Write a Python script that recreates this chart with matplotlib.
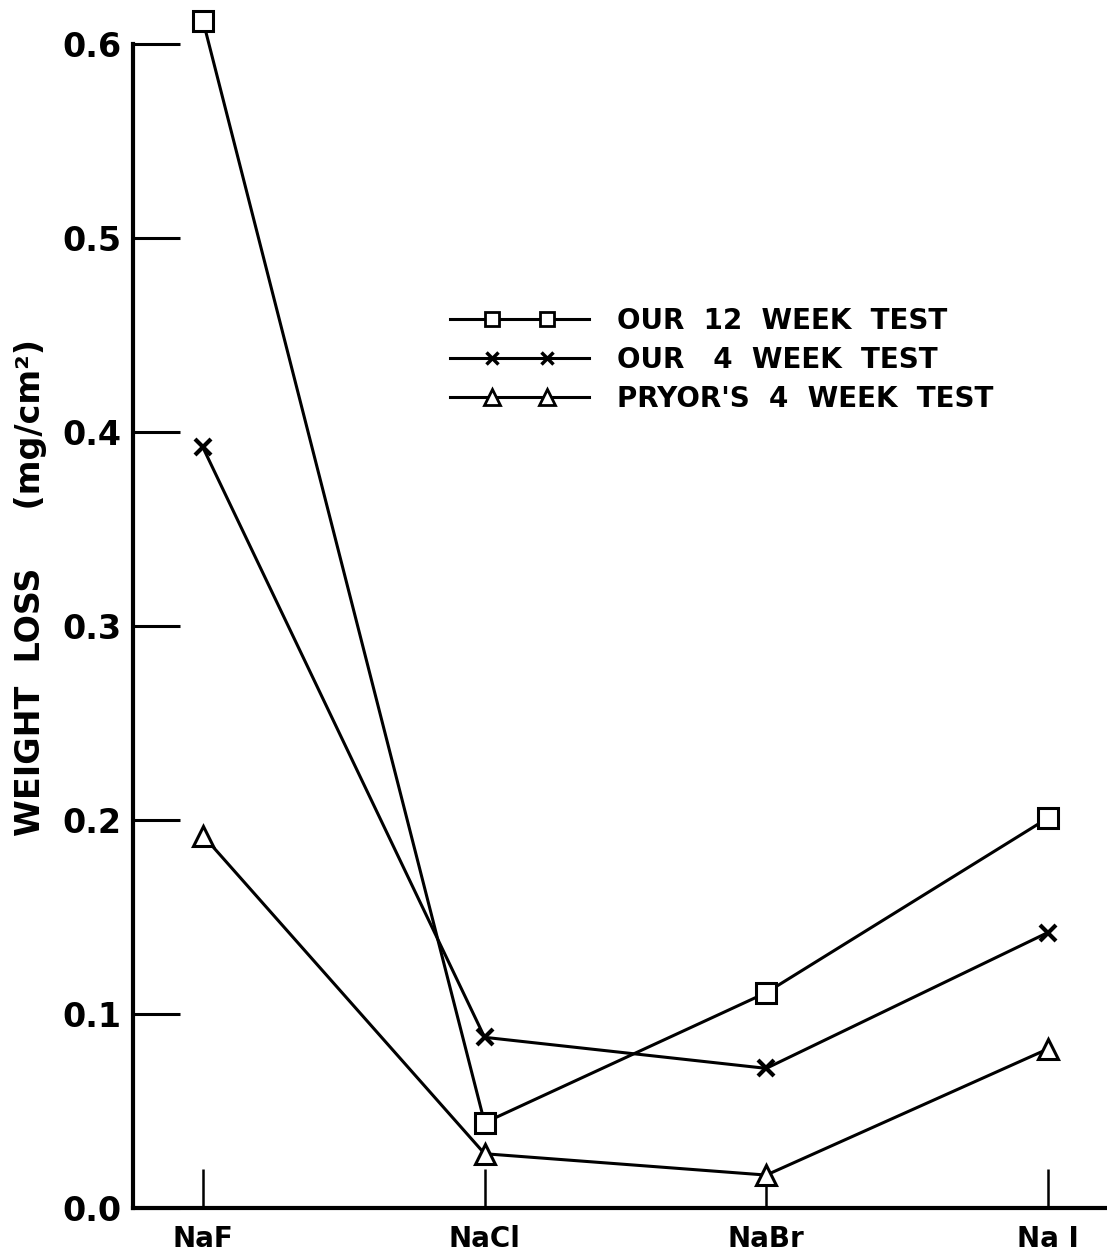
import matplotlib
matplotlib.use("Agg")
import matplotlib.pyplot as plt
from matplotlib.lines import Line2D
from matplotlib.legend_handler import HandlerLine2D, HandlerTuple

plt.rcParams['font.family'] = ['DejaVu Sans']
plt.rcParams['font.weight'] = 'bold'

salts = ['NaF', 'NaCl', 'NaBr', 'NaI']
week12 = [0.612, 0.044, 0.111, 0.201]
week4 = [0.392, 0.088, 0.072, 0.142]
pryor4 = [0.192, 0.028, 0.017, 0.082]
yticks = [0.0, 0.1, 0.2, 0.3, 0.4, 0.5, 0.6]
labels = ['OUR  12  WEEK  TEST', 'OUR   4  WEEK  TEST', "PRYOR'S  4  WEEK  TEST"]

fig = plt.figure(figsize=(11.07, 12.58), dpi=100)
ax = fig.add_axes([0.120, 0.0397, 0.880, 0.9254])

x = range(len(salts))
ax.plot(x, week12, color='black', lw=2.2, marker='s', ms=14,
        mfc='white', mec='black', mew=2.2, clip_on=False, zorder=3)
ax.plot(x, week4, color='black', lw=2.2, marker='x', ms=11,
        mec='black', mew=3, clip_on=False, zorder=3)
ax.plot(x, pryor4, color='black', lw=2.2, marker='^', ms=15,
        mfc='white', mec='black', mew=2.2, clip_on=False, zorder=3)

ax.set_xlim(-0.249, 3.21)
ax.set_ylim(0, 0.6)
ax.set_xticks(list(x))
ax.set_xticklabels(['NaF', 'NaCl', 'NaBr', 'Na I'], fontsize=20, fontweight='bold')
ax.set_yticks(yticks)
ax.set_yticklabels(['%.1f' % v for v in yticks], fontsize=24, fontweight='bold')
ax.tick_params(axis='y', direction='in', length=34, width=2.2, pad=8)
ax.tick_params(axis='x', direction='in', length=28, width=1.8, pad=12)

for s in ['top', 'right']:
    ax.spines[s].set_visible(False)
for s in ['left', 'bottom']:
    ax.spines[s].set_linewidth(3)

ax.set_ylabel('WEIGHT  LOSS     (mg/cm²)', fontsize=24, fontweight='bold')
ax.yaxis.set_label_coords(-0.088, 0.533)

# legend: full-width line with two small markers inset
hm = {tuple: HandlerTuple(ndivide=1)}
handles = []
for mk, ms, mew in [('s', 10, 2), ('x', 8, 2.5), ('^', 11, 2)]:
    ln = Line2D([], [], color='black', lw=2.2)
    mkr = Line2D([], [], ls='none', marker=mk, ms=ms, mfc='white', mec='black', mew=mew)
    hm[ln] = HandlerLine2D(numpoints=1)
    hm[mkr] = HandlerLine2D(numpoints=2, marker_pad=1.5)
    handles.append((ln, mkr))

ax.legend(handles, labels, handler_map=hm, loc='upper left',
          bbox_to_anchor=(450 / 1107, 1 - 307 / 1258), bbox_transform=fig.transFigure,
          frameon=False, fontsize=20, handlelength=5.0, handletextpad=1.0,
          labelspacing=0.4, borderpad=0, borderaxespad=0)

fig.savefig('out.png', dpi=100)
